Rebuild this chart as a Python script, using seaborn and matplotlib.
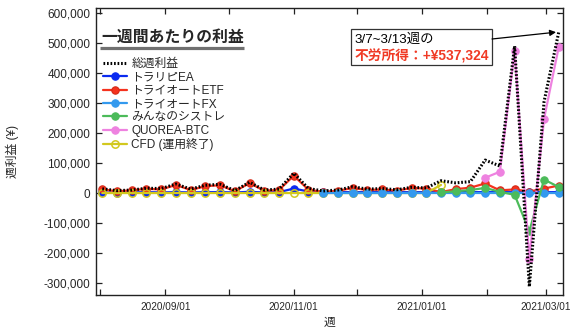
import numpy as np
import pandas as pd
import matplotlib
matplotlib.use("Agg")
import matplotlib.pyplot as plt
import matplotlib.dates as mdates
from matplotlib.ticker import FuncFormatter, MultipleLocator
from matplotlib.patches import Rectangle
import seaborn as sns

# Weekly points, each dated by the Sunday that starts the week
weeks = pd.date_range("2020-08-02", "2021-03-07", freq="7D")
nan = np.nan

total = [14000, 8000, 10000, 16000, 15000, 30000, 13000, 26000, 29000, 8000,
         36000, 10000, 13000, 66000, 15000, 7000, 10000, 21000, 13000, 15000,
         11000, 19000, 17000, 41000, 34000, 38000, 110000, 90000, 490000,
         -312000, 305000, 537324]
trarip_ea = [2000, 1000, 2000, 3000, 2000, 3000, 2000, 3000, 3000, 2000,
             4000, 2000, 3000, 15000, 5000, 3000, 3000, 3000, 3000, 3000,
             3000, 3000, 3000, 3000, 3000, 3000, 3000, 3000, 3000, 3000,
             3000, 3000]
triauto_etf = [12000, 6000, 9000, 14000, 12000, 27000, 10000, 23000, 26000, 6000,
               33000, 8000, 10000, 58000, 11000, 4000, 7500, 17000, 10000, 12000,
               8000, 17000, 15000, 3000, 13000, 18000, 32000, 9000, 12000, 5000,
               15000, 25000]
triauto_fx = [nan] * 15 + [500, 500, 500, 500, 500, 500, 500, 500, 500, 500,
                           500, 500, 500, 500, 500, 500, 500]
minna_systre = [nan] * 23 + [2000, 6000, 10000, 17000, 4000, -6000, -127000,
                             45000, 20000]
quorea_btc = [nan] * 26 + [51000, 71000, 473000, -220000, 248000, 488000]
cfd = [0] * 23 + [27000] + [nan] * 8

sns.set_style("ticks")
plt.rcParams["font.family"] = ["Liberation Sans", "Noto Sans CJK JP"]
plt.rcParams["axes.unicode_minus"] = False

fig = plt.figure(figsize=(5.86, 3.30), dpi=100)
ax = fig.add_axes([96 / 586, 1 - 295 / 330, (563 - 96) / 586, (295 - 8) / 330])


def draw(values, label, color, zorder=2, **kw):
    s = pd.Series(values, index=weeks).dropna()
    sns.lineplot(x=s.index, y=s.values, ax=ax, color=color, label=label,
                 errorbar=None, zorder=zorder, **kw)
    return ax.lines[-1]


mk = dict(marker="o", markersize=5.3, lw=1.6, mew=0.8)
h_ea = draw(trarip_ea, "トラリピEA", "#0a2af0", mec="#0a2af0", **mk)
h_etf = draw(triauto_etf, "トライオートETF", "#f5321e", mec="#d42a18", **mk)
h_cfd = draw(cfd, "CFD (運用終了)", "#d2c81e", mec="#d2c81e", mfc="none",
             marker="o", markersize=5.3, lw=1.6, mew=1.1)
h_fx = draw(triauto_fx, "トライオートFX", "#3399ee", mec="#3399ee", **mk)
h_min = draw(minna_systre, "みんなのシストレ", "#4cbb5a", mec="#4cbb5a", **mk)
h_q = draw(quorea_btc, "QUOREA-BTC", "#ee82e0", mec="#ee82e0", **mk)
h_tot = draw(total, "総週利益", "black", zorder=4, lw=2.2,
             linestyle=(0, (0.55, 0.6)))

# Axes limits and ticks
ax.set_xlim(mdates.date2num(pd.Timestamp("2020-07-30")),
            mdates.date2num(pd.Timestamp("2021-03-09")))
ax.set_ylim(-340000, 617000)
ax.yaxis.set_major_locator(MultipleLocator(100000))
ax.yaxis.set_major_formatter(FuncFormatter(lambda v, p: f"{int(round(v)):,}"))
ax.xaxis.set_major_locator(mdates.MonthLocator())
ax.xaxis.set_major_formatter(FuncFormatter(
    lambda v, p: mdates.num2date(v).strftime("%Y/%m/%d")
    if mdates.num2date(v).month % 2 == 1 else ""))
ax.tick_params(axis="both", direction="in", top=True, right=True,
               length=4, width=0.9, color="#222222")
ax.tick_params(axis="y", labelsize=8.5, pad=4)
ax.tick_params(axis="x", labelsize=7.2, pad=5)
for sp in ax.spines.values():
    sp.set_color("#222222")
    sp.set_linewidth(1.0)

ax.set_ylabel("週利益 (¥)", fontsize=8.5)
ax.yaxis.set_label_coords(-0.165, 0.5)
ax.set_xlabel("週", fontsize=8.5)
ax.xaxis.set_label_coords(0.5, -0.075)

# Title with underline inside the plot area
ax.text(0.012, 0.899, "一週間あたりの利益", transform=ax.transAxes,
        fontsize=11.4, fontweight="bold", va="center", ha="left", zorder=6)
ax.plot([0.009, 0.317], [0.861, 0.861], transform=ax.transAxes,
        color="#707070", lw=2.3, solid_capstyle="butt", zorder=6)

# Legend
handles = [h_tot, h_ea, h_etf, h_fx, h_min, h_q, h_cfd]
labels = [h.get_label() for h in handles]
ax.legend(handles, labels, loc="upper left", bbox_to_anchor=(0.015, 0.825),
          frameon=False, fontsize=8.5, handlelength=2.0, handletextpad=0.4,
          labelspacing=0.11, borderaxespad=0, borderpad=0)

# Callout for the latest week
ax.add_patch(Rectangle((0.546, 0.801), 0.302, 0.126, transform=ax.transAxes,
                       facecolor="white", edgecolor="#333333", lw=0.9,
                       zorder=7))
ax.text(0.553, 0.889, "3/7~3/13週の", transform=ax.transAxes, fontsize=9.6,
        va="center", ha="left", color="black", zorder=8)
ax.text(0.553, 0.833, "不労所得：+¥537,324", transform=ax.transAxes,
        fontsize=9.9, fontweight="bold", va="center", ha="left",
        color="#f03a25", zorder=8)
ax.annotate("", xy=(mdates.date2num(weeks[-1]), total[-1]), xycoords="data",
            xytext=(0.848, 0.892), textcoords="axes fraction",
            arrowprops=dict(arrowstyle="-|>", color="black", lw=0.9,
                            mutation_scale=9, shrinkA=0, shrinkB=2),
            zorder=8)

fig.savefig("out.png", dpi=100)
